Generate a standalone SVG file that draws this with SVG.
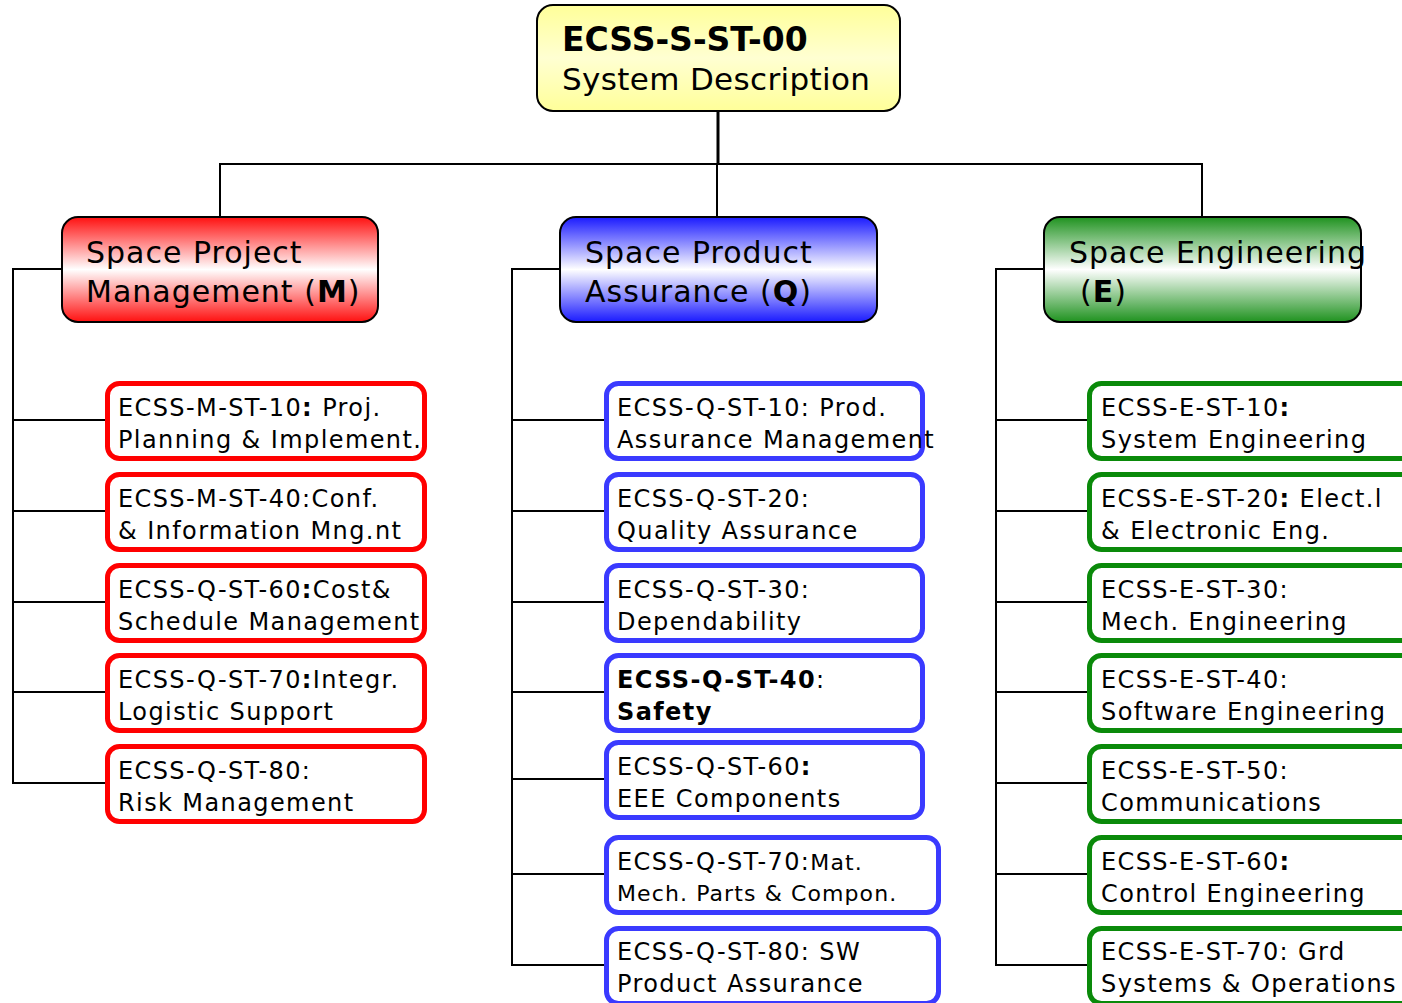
<svg xmlns="http://www.w3.org/2000/svg" width="1402" height="1003" viewBox="0 0 1402 1003">
<style>
text{font-family:"DejaVu Sans",Verdana,sans-serif;fill:#000}
.t{font-size:24px;letter-spacing:1.4px}
.s{font-size:22px;letter-spacing:1.1px}
.c{font-size:30px;letter-spacing:1px}
.b{font-weight:bold}
.ln{stroke:#000;stroke-width:2;fill:none}
.hd{stroke:#000;stroke-width:2}
.m{fill:#fff;stroke:#ff0000;stroke-width:5}
.q{fill:#fff;stroke:#3a3aff;stroke-width:5}
.e{fill:#fff;stroke:#0a8a0a;stroke-width:5}
</style>
<defs>
<linearGradient id="gy" x1="0" y1="0" x2="0" y2="1"><stop offset="0" stop-color="#ffff99"/><stop offset="0.5" stop-color="#ffffd2"/><stop offset="1" stop-color="#ffff99"/></linearGradient>
<linearGradient id="gr" x1="0" y1="0" x2="0" y2="1"><stop offset="0" stop-color="#ff1010"/><stop offset="0.5" stop-color="#ffffff"/><stop offset="1" stop-color="#ff1010"/></linearGradient>
<linearGradient id="gb" x1="0" y1="0" x2="0" y2="1"><stop offset="0" stop-color="#1a1aff"/><stop offset="0.5" stop-color="#ffffff"/><stop offset="1" stop-color="#1a1aff"/></linearGradient>
<linearGradient id="gg" x1="0" y1="0" x2="0" y2="1"><stop offset="0" stop-color="#1f921f"/><stop offset="0.5" stop-color="#ffffff"/><stop offset="1" stop-color="#1f921f"/></linearGradient>
</defs>
<g id="connectors">
<line x1="718" y1="111" x2="718" y2="164" stroke="#000" stroke-width="3"/>
<polyline class="ln" points="220,217 220,164 1202,164 1202,217"/>
<line class="ln" x1="717" y1="164" x2="717" y2="217"/>
<polyline class="ln" points="62,269 13,269 13,783 105,783"/>
<line class="ln" x1="13" y1="420" x2="105" y2="420"/>
<line class="ln" x1="13" y1="511" x2="105" y2="511"/>
<line class="ln" x1="13" y1="602" x2="105" y2="602"/>
<line class="ln" x1="13" y1="692" x2="105" y2="692"/>
<polyline class="ln" points="560,269 512,269 512,965 605,965"/>
<line class="ln" x1="512" y1="420" x2="605" y2="420"/>
<line class="ln" x1="512" y1="511" x2="605" y2="511"/>
<line class="ln" x1="512" y1="602" x2="605" y2="602"/>
<line class="ln" x1="512" y1="692" x2="605" y2="692"/>
<line class="ln" x1="512" y1="779" x2="605" y2="779"/>
<line class="ln" x1="512" y1="874" x2="605" y2="874"/>
<polyline class="ln" points="1044,269 996,269 996,965 1088,965"/>
<line class="ln" x1="996" y1="420" x2="1088" y2="420"/>
<line class="ln" x1="996" y1="511" x2="1088" y2="511"/>
<line class="ln" x1="996" y1="602" x2="1088" y2="602"/>
<line class="ln" x1="996" y1="692" x2="1088" y2="692"/>
<line class="ln" x1="996" y1="783" x2="1088" y2="783"/>
<line class="ln" x1="996" y1="874" x2="1088" y2="874"/>
</g>
<g id="root">
<rect x="537" y="5" width="363" height="106" rx="16" fill="url(#gy)" class="hd"/>
<text x="562" y="51" class="b" font-size="33">ECSS-S-ST-00</text>
<text x="562" y="90" font-size="31" letter-spacing="0.35">System Description</text>
</g>
<g id="cat-m">
<rect x="62" y="217" width="316" height="105" rx="16" fill="url(#gr)" class="hd"/>
<text x="86" y="263" class="c">Space Project</text>
<text x="86" y="302" class="c">Management (<tspan class="b">M</tspan>)</text>
</g>
<g id="cat-q">
<rect x="560" y="217" width="317" height="105" rx="16" fill="url(#gb)" class="hd"/>
<text x="585" y="263" class="c">Space Product</text>
<text x="585" y="302" class="c">Assurance (<tspan class="b">Q</tspan>)</text>
</g>
<g id="cat-e">
<rect x="1044" y="217" width="317" height="105" rx="16" fill="url(#gg)" class="hd"/>
<text x="1069" y="263" class="c">Space Engineering</text>
<text x="1080" y="302" class="c">(<tspan class="b">E</tspan>)</text>
</g>
<g id="m10"><rect class="m" x="107.5" y="383.5" width="317" height="75" rx="12"/><text class="t" x="118" y="416">ECSS-M-ST-10<tspan class="b">:</tspan> Proj.</text><text class="t" x="118" y="448">Planning &amp; Implement.</text></g>
<g id="m40"><rect class="m" x="107.5" y="474.5" width="317" height="75" rx="12"/><text class="t" x="118" y="507">ECSS-M-ST-40:Conf.</text><text class="t" x="118" y="539">&amp; Information Mng.nt</text></g>
<g id="mq60"><rect class="m" x="107.5" y="565.5" width="317" height="75" rx="12"/><text class="t" x="118" y="598">ECSS-Q-ST-60<tspan class="b">:</tspan>Cost&amp;</text><text class="t" x="118" y="630">Schedule Management</text></g>
<g id="mq70"><rect class="m" x="107.5" y="655.5" width="317" height="75" rx="12"/><text class="t" x="118" y="688">ECSS-Q-ST-70<tspan class="b">:</tspan>Integr.</text><text class="t" x="118" y="720">Logistic Support</text></g>
<g id="mq80"><rect class="m" x="107.5" y="746.5" width="317" height="75" rx="12"/><text class="t" x="118" y="779">ECSS-Q-ST-80:</text><text class="t" x="118" y="811">Risk Management</text></g>
<g id="q10"><rect class="q" x="606.5" y="383.5" width="316" height="75" rx="12"/><text class="t" x="617" y="416">ECSS-Q-ST-10: Prod.</text><text class="t" x="617" y="448">Assurance Management</text></g>
<g id="q20"><rect class="q" x="606.5" y="474.5" width="316" height="75" rx="12"/><text class="t" x="617" y="507">ECSS-Q-ST-20:</text><text class="t" x="617" y="539">Quality Assurance</text></g>
<g id="q30"><rect class="q" x="606.5" y="565.5" width="316" height="75" rx="12"/><text class="t" x="617" y="598">ECSS-Q-ST-30:</text><text class="t" x="617" y="630">Dependability</text></g>
<g id="q40"><rect class="q" x="606.5" y="655.5" width="316" height="75" rx="12"/><text class="t" x="617" y="688"><tspan class="b">ECSS-Q-ST-40</tspan>:</text><text class="t b" x="617" y="720">Safety</text></g>
<g id="q60"><rect class="q" x="606.5" y="742.5" width="316" height="75" rx="12"/><text class="t" x="617" y="775">ECSS-Q-ST-60<tspan class="b">:</tspan></text><text class="t" x="617" y="807">EEE Components</text></g>
<g id="q70"><rect class="q" x="606.5" y="837.5" width="332" height="75" rx="12"/><text class="t" x="617" y="870">ECSS-Q-ST-70:<tspan class="s">Mat.</tspan></text><text class="s" x="617" y="901">Mech. Parts &amp; Compon.</text></g>
<g id="q80"><rect class="q" x="606.5" y="928.5" width="332" height="75" rx="12"/><text class="t" x="617" y="960">ECSS-Q-ST-80: SW</text><text class="t" x="617" y="992">Product Assurance</text></g>
<g id="e10"><rect class="e" x="1089.5" y="383.5" width="330" height="75" rx="12"/><text class="t" x="1101" y="416">ECSS-E-ST-10<tspan class="b">:</tspan></text><text class="t" x="1101" y="448">System Engineering</text></g>
<g id="e20"><rect class="e" x="1089.5" y="474.5" width="330" height="75" rx="12"/><text class="t" x="1101" y="507">ECSS-E-ST-20<tspan class="b">:</tspan> Elect.l</text><text class="t" x="1101" y="539">&amp; Electronic Eng.</text></g>
<g id="e30"><rect class="e" x="1089.5" y="565.5" width="330" height="75" rx="12"/><text class="t" x="1101" y="598">ECSS-E-ST-30:</text><text class="t" x="1101" y="630">Mech. Engineering</text></g>
<g id="e40"><rect class="e" x="1089.5" y="655.5" width="330" height="75" rx="12"/><text class="t" x="1101" y="688">ECSS-E-ST-40:</text><text class="t" x="1101" y="720">Software Engineering</text></g>
<g id="e50"><rect class="e" x="1089.5" y="746.5" width="330" height="75" rx="12"/><text class="t" x="1101" y="779">ECSS-E-ST-50:</text><text class="t" x="1101" y="811">Communications</text></g>
<g id="e60"><rect class="e" x="1089.5" y="837.5" width="330" height="75" rx="12"/><text class="t" x="1101" y="870">ECSS-E-ST-60<tspan class="b">:</tspan></text><text class="t" x="1101" y="902">Control Engineering</text></g>
<g id="e70"><rect class="e" x="1089.5" y="928.5" width="330" height="75" rx="12"/><text class="t" x="1101" y="960">ECSS-E-ST-70: Grd</text><text class="t" x="1101" y="992">Systems &amp; Operations</text></g>
</svg>
